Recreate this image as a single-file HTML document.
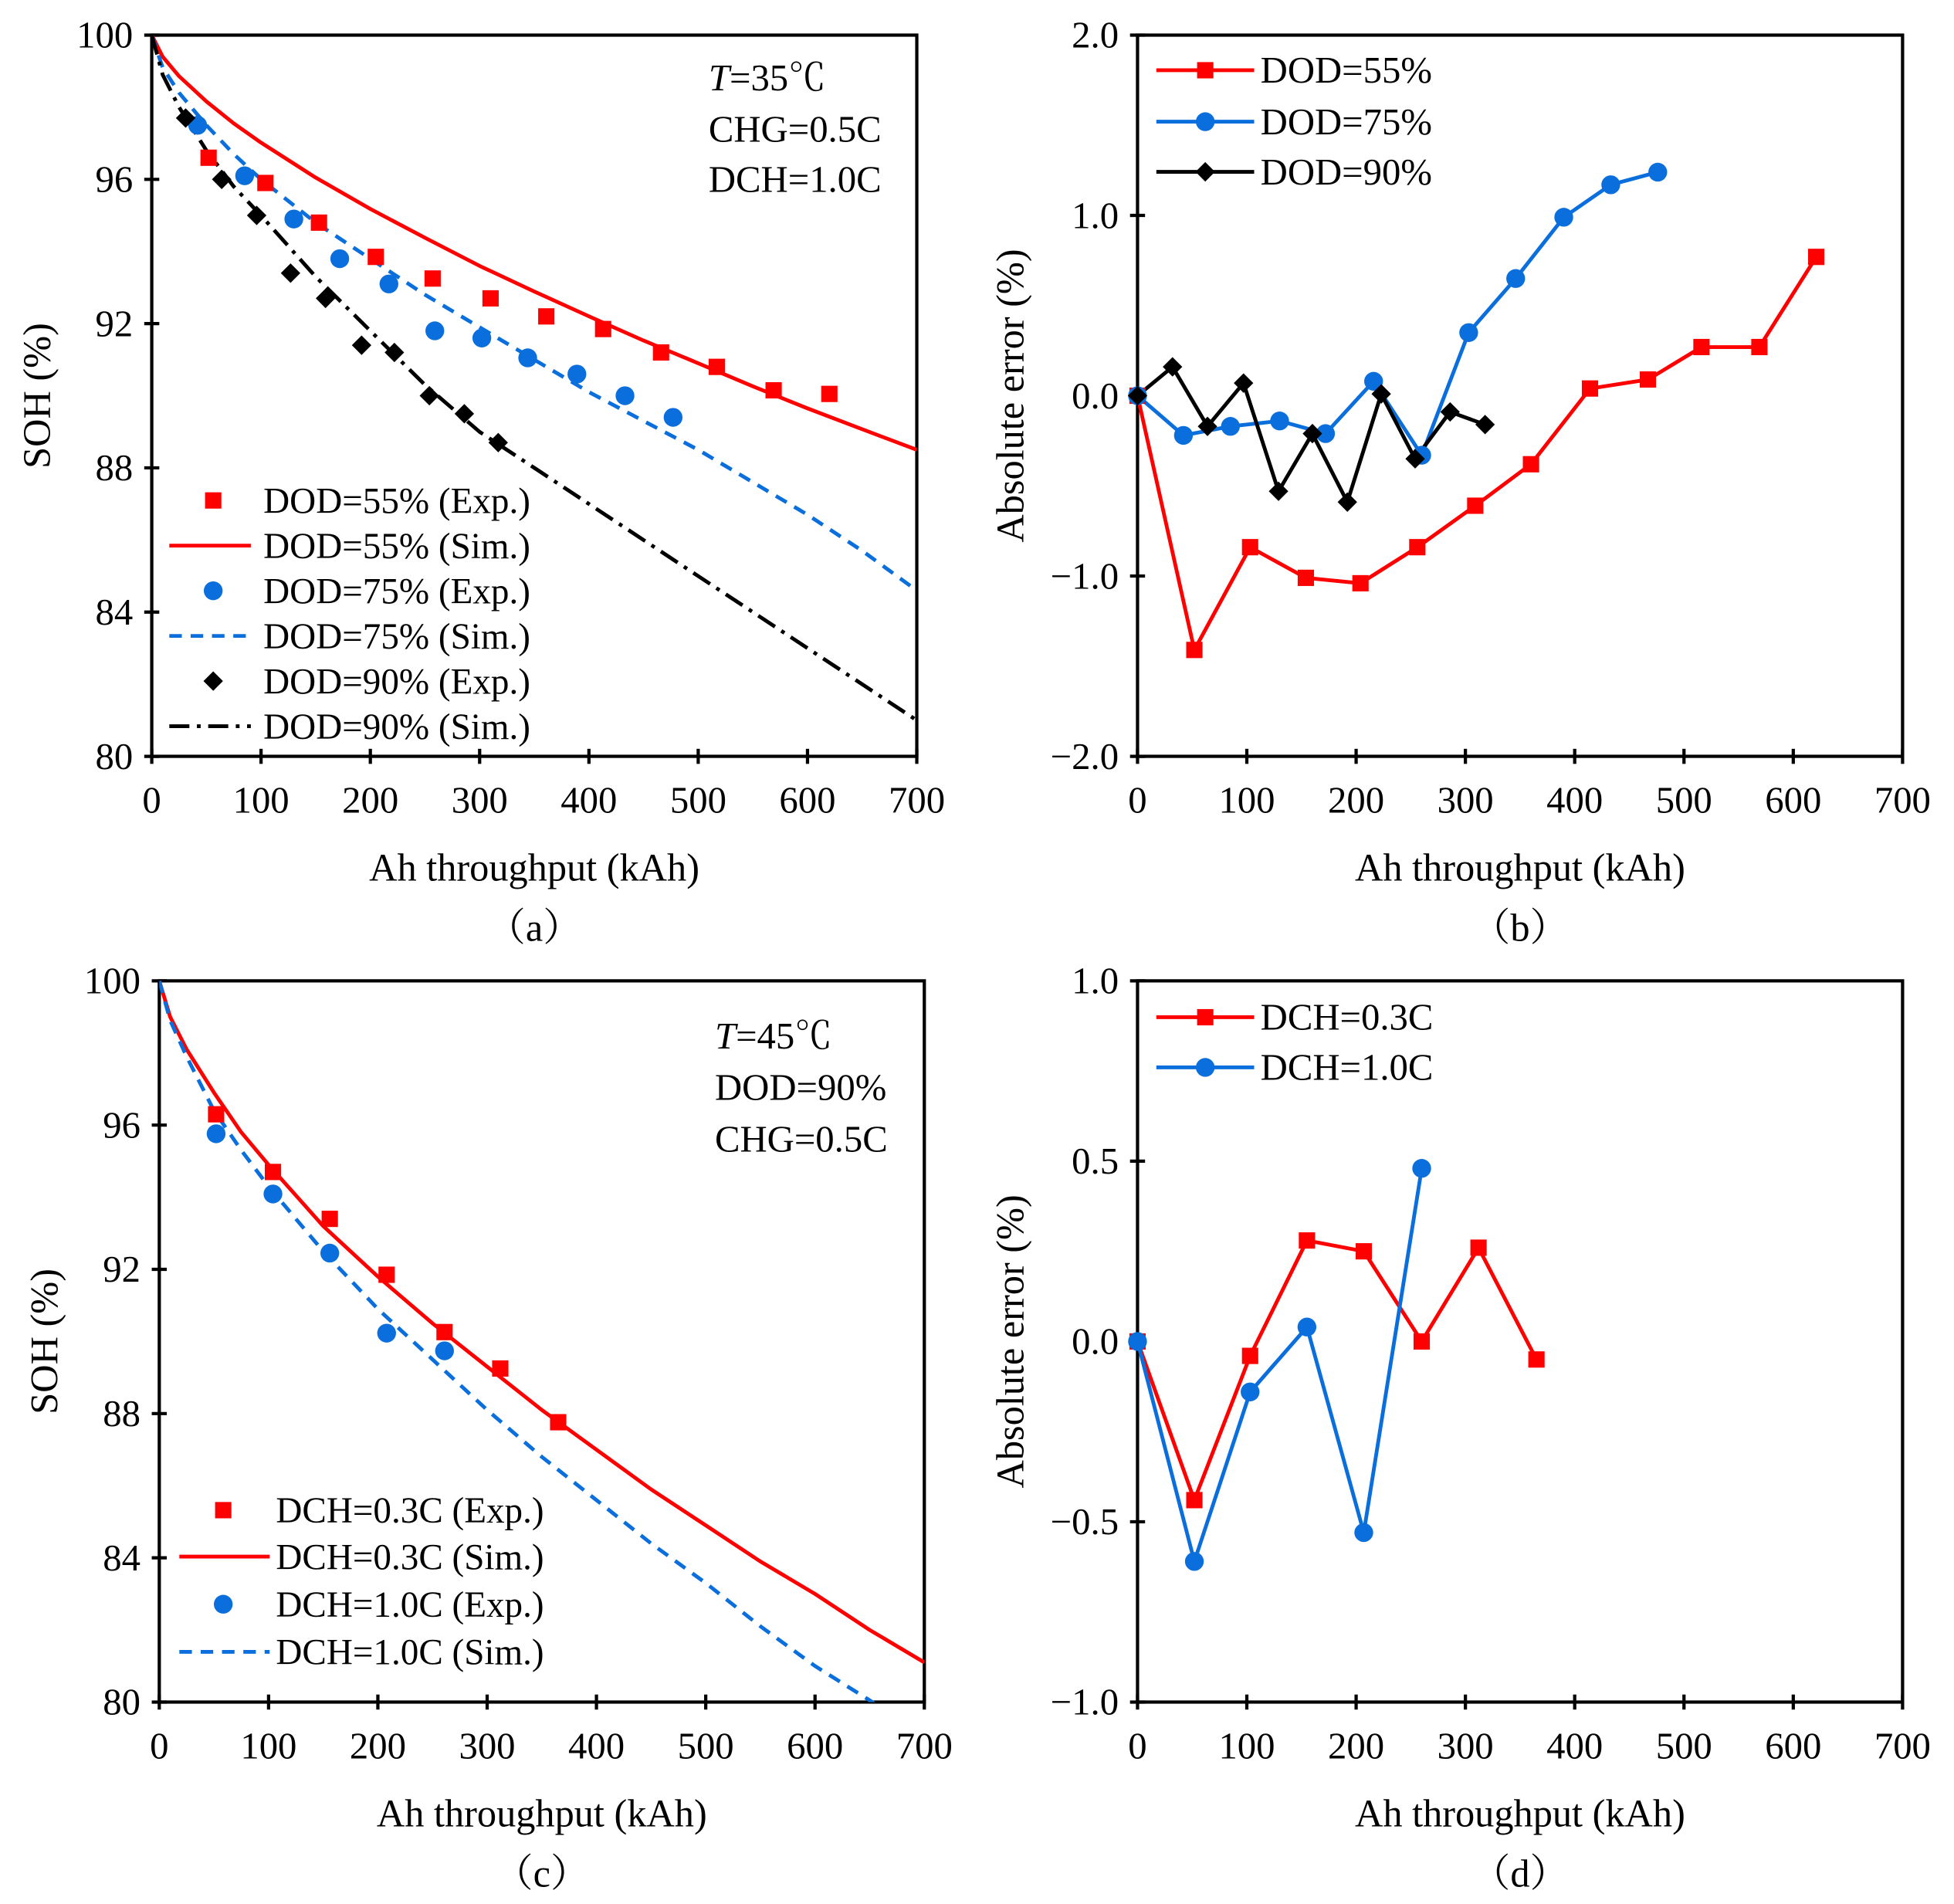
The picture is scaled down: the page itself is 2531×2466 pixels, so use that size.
<!DOCTYPE html>
<html><head><meta charset="utf-8"><style>
html,body{margin:0;padding:0;background:#fff}
svg{display:block}
text{font-family:"Liberation Serif","Noto Serif CJK SC",serif;fill:#000}
</style></head><body>
<svg id="fig" width="2531" height="2466" viewBox="0 0 1558 1518" xmlns="http://www.w3.org/2000/svg"></svg>
<script>
// ---- Panel (a) data ----
const aX55 = [52,104,153,205,257,310,361,413,466,517,569,620];
const aY55 = [96.6,95.9,94.8,93.85,93.25,92.7,92.2,91.85,91.2,90.8,90.15,90.05];
const aX75 = [42,85,130,172,217,259,302,344,389,433,477];
const aY75 = [97.5,96.1,94.9,93.8,93.1,91.8,91.6,91.05,90.6,90.0,89.4];
const aX90 = [31,64,96,127,159,192,222,254,286,317];
const aY90 = [97.7,96.0,95.0,93.4,92.7,91.4,91.2,90.0,89.5,88.7];
const simX = [0,10,25,50,75,100,150,200,250,300,350,400,450,500,550,600,650,700];
const aSim55 = [100,99.4,98.86,98.16,97.55,97.02,96.05,95.18,94.38,93.6,92.89,92.2,91.53,90.9,90.26,89.65,89.07,88.5];
const aSim75 = [100,99.1,98.4,97.5,96.7,96.0,94.8,93.8,92.8,91.9,91.0,90.1,89.3,88.5,87.6,86.7,85.7,84.6];
const aSim90 = [100,98.9,98.0,96.8,95.8,95.0,93.3,91.8,90.3,89.0,88.0,87.0,86.0,85.0,84.0,83.0,82.0,81.0];
// ---- Panel (b) data ----
const bX55 = [0,52,103,154,204,256,309,360,414,467,516,569,621];
const bY55 = [0,-1.41,-0.84,-1.01,-1.04,-0.84,-0.61,-0.38,0.04,0.09,0.27,0.27,0.77];
const bX75 = [0,42,85,130,172,216,260,303,346,390,433,476];
const bY75 = [0,-0.22,-0.17,-0.14,-0.21,0.08,-0.33,0.35,0.65,0.99,1.17,1.24];
const bX90 = [0,32,64,97,129,160,192,223,254,286,318];
const bY90 = [0,0.16,-0.17,0.07,-0.53,-0.21,-0.59,0.01,-0.35,-0.09,-0.16];
// ---- Panel (c) data ----
const cX03 = [52,104,156,208,261,312,365];
const cY03 = [96.3,94.7,93.4,91.85,90.26,89.25,87.76];
const cX10 = [52,104,156,208,261];
const cY10 = [95.76,94.09,92.45,90.23,89.74];
const cSim03 = [100,99.0,98.1,96.9,95.8,94.9,93.2,91.8,90.5,89.3,88.1,87.0,85.9,84.9,83.9,83.0,82.0,81.1];
const cSim10 = [100,98.9,97.9,96.4,95.3,94.3,92.5,90.9,89.5,88.1,86.8,85.6,84.4,83.3,82.1,81.0,80.05,79.0];
// ---- Panel (d) data ----
const dX03 = [0,52,103,155,207,260,312,365];
const dY03 = [0,-0.44,-0.04,0.28,0.25,0,0.26,-0.05];
const dX10 = [0,52,103,155,207,260];
const dY10 = [0,-0.61,-0.14,0.04,-0.53,0.48];
// ticks
const xTicks = [0,100,200,300,400,500,600,700];
const sohTicks = [80,84,88,92,96,100];
const bTicks = [-2,-1,0,1,2];
const bTickLabels = ["\u22122.0","\u22121.0","0.0","1.0","2.0"];
const dTicks = [-1,-0.5,0,0.5,1];
const dTickLabels = ["\u22121.0","\u22120.5","0.0","0.5","1.0"];

const RED="#ff0000", BLUE="#0a6fdc", BLK="#000";
const svg=document.getElementById('fig');
const NS="http://www.w3.org/2000/svg";
function mk(tag,attrs,parent){const e=document.createElementNS(NS,tag);for(const k in attrs)e.setAttribute(k,attrs[k]);(parent||svg).appendChild(e);return e;}
function txt(s,x,y,size,anchor,parent){const t=mk('text',{x:x,y:y,'font-size':size,'text-anchor':anchor||'middle'},parent);t.textContent=s;return t;}

function panel(name,L,R,T,B,ymin,ymax,yt,ytl,ylabel,ylabX,sub){
  const g=mk('g',{});
  
  
  const sx=v=>L+(v-0)/700*(R-L);
  const sy=v=>B-(v-ymin)/(ymax-ymin)*(B-T);
  const cid=name+'-clip';
  const cp=mk('clipPath',{id:cid},g);mk('rect',{x:L,y:T,width:R-L,height:B-T},cp);
  const fr=mk('rect',{x:L,y:T,width:R-L,height:B-T,fill:'none',stroke:'#000','stroke-width':2.6},g);
  
  
  const xa=mk('g',{},g);
  
  
  xTicks.forEach(v=>{mk('line',{x1:sx(v),x2:sx(v),y1:B-6,y2:B+6,stroke:'#000','stroke-width':2.6},xa);txt(String(v),sx(v),B+45,30,'middle',xa);});
  const ya=mk('g',{},g);
  
  
  yt.forEach((v,i)=>{mk('line',{x1:L-6,x2:L+6,y1:sy(v),y2:sy(v),stroke:'#000','stroke-width':2.6},ya);txt(ytl[i],L-15,sy(v)+10,30,'end',ya);});
  const xl=txt('Ah throughput (kAh)',(L+R)/2,B+99,31,'middle',g);
  
  
  const yl=txt(ylabel,0,0,31,'middle',g);
  yl.setAttribute('transform','translate('+ylabX+','+((T+B)/2)+') rotate(-90)');
  
  
  const sl=txt('\uff08'+sub+'\uff09',(L+R)/2,B+147,31,'middle',g);
  
  
  const plot=mk('g',{'clip-path':'url(#'+cid+')'},g);
  return {g,plot,sx,sy};
}
function line(p,xs,ys,color,dash,nm){
  const d=xs.map((x,i)=>(i?'L':'M')+p.sx(x).toFixed(1)+','+p.sy(ys[i]).toFixed(1)).join('');
  const a={d:d,fill:'none',stroke:color,'stroke-width':3,'stroke-linejoin':'round'};
  if(dash)a['stroke-dasharray']=dash;
  const e=mk('path',a,p.plot);
  
  
}
function marker(parent,type,x,y,color){
  let e;
  if(type==='s')e=mk('rect',{x:x-6.5,y:y-6.5,width:13,height:13,fill:color},parent);
  else if(type==='c')e=mk('circle',{cx:x,cy:y,r:7.5,fill:color},parent);
  else e=mk('rect',{x:x-5.5,y:y-5.5,width:11,height:11,fill:color,transform:'rotate(45 '+x+' '+y+')'},parent);
  return e;
}
function points(p,xs,ys,type,color,nm){
  const g=mk('g',{},p.g);
  
  
  xs.forEach((x,i)=>{const m=marker(g,type,p.sx(x),p.sy(ys[i]),color);
    
    });
}
function legRow(parent,y,x1,x2,mx,tx,type,color,dash,label,withLine,withMarker,size){
  if(withLine){const a={x1:x1,x2:x2,y1:y,y2:y,stroke:color,'stroke-width':3};if(dash)a['stroke-dasharray']=dash;mk('line',a,parent);}
  if(withMarker)marker(parent,type,mx,y,color);
  txt(label,tx,y+10,size||29,'start',parent);
}
function legend(nm){const g=mk('g',{});return g;}

// ---------- (a) ----------
const pa=panel('panel-a',121,731,28,603,80,100,sohTicks,sohTicks.map(String),'SOH (%)',40,'a');
line(pa,simX,aSim55,RED,null,'dod55-sim-line');
line(pa,simX,aSim75,BLUE,'10,7','dod75-sim-line');
line(pa,simX,aSim90,BLK,'16,6,3,6','dod90-sim-line');
points(pa,aX55,aY55,'s',RED,'dod55-exp-series');
points(pa,aX75,aY75,'c',BLUE,'dod75-exp-series');
points(pa,aX90,aY90,'d',BLK,'dod90-exp-series');
let la=legend('legend-a');
legRow(la,399,135,200,170,210,'s',RED,null,'DOD=55% (Exp.)',false,true);
legRow(la,435,135,200,170,210,'s',RED,null,'DOD=55% (Sim.)',true,false);
legRow(la,471,135,200,170,210,'c',BLUE,null,'DOD=75% (Exp.)',false,true);
legRow(la,507,135,200,170,210,'c',BLUE,'10,7','DOD=75% (Sim.)',true,false);
legRow(la,543,135,200,170,210,'d',BLK,null,'DOD=90% (Exp.)',false,true);
legRow(la,579,135,200,170,210,'d',BLK,'16,6,3,6','DOD=90% (Sim.)',true,false);
let an=mk('text',{x:565,y:72,'font-size':30});an.innerHTML='<tspan font-style="italic">T</tspan>=35\u2103';

txt('CHG=0.5C',565,113,30,'start');txt('DCH=1.0C',565,153,30,'start');

// ---------- (b) ----------
const pb=panel('panel-b',907,1517,28,603,-2,2,bTicks,bTickLabels,'Absolute error (%)',816,'b');
line(pb,bX55,bY55,RED,null,'dod55-error-line');
line(pb,bX75,bY75,BLUE,null,'dod75-error-line');
line(pb,bX90,bY90,BLK,null,'dod90-error-line');
points(pb,bX55,bY55,'s',RED,'dod55-error-points');
points(pb,bX75,bY75,'c',BLUE,'dod75-error-points');
points(pb,bX90,bY90,'d',BLK,'dod90-error-points');
let lb=legend('legend-b');
legRow(lb,56,922,1000,961,1005,'s',RED,null,'DOD=55%',true,true,30);
legRow(lb,97,922,1000,961,1005,'c',BLUE,null,'DOD=75%',true,true,30);
legRow(lb,137,922,1000,961,1005,'d',BLK,null,'DOD=90%',true,true,30);

// ---------- (c) ----------
const pc=panel('panel-c',127,737,782,1357,80,100,sohTicks,sohTicks.map(String),'SOH (%)',46,'c');
line(pc,simX,cSim03,RED,null,'dch03-sim-line');
line(pc,simX,cSim10,BLUE,'10,7','dch10-sim-line');
points(pc,cX03,cY03,'s',RED,'dch03-exp-series');
points(pc,cX10,cY10,'c',BLUE,'dch10-exp-series');
let lc=legend('legend-c');
legRow(lc,1204,143,215,178,220,'s',RED,null,'DCH=0.3C (Exp.)',false,true);
legRow(lc,1241,143,215,178,220,'s',RED,null,'DCH=0.3C (Sim.)',true,false);
legRow(lc,1279,143,215,178,220,'c',BLUE,null,'DCH=1.0C (Exp.)',false,true);
legRow(lc,1317,143,215,178,220,'c',BLUE,'10,7','DCH=1.0C (Sim.)',true,false);
an=mk('text',{x:570,y:836,'font-size':30});an.innerHTML='<tspan font-style="italic">T</tspan>=45\u2103';

txt('DOD=90%',570,877,30,'start');txt('CHG=0.5C',570,918,30,'start');

// ---------- (d) ----------
const pd=panel('panel-d',907,1517,782,1357,-1,1,dTicks,dTickLabels,'Absolute error (%)',816,'d');
line(pd,dX03,dY03,RED,null,'dch03-error-line');
line(pd,dX10,dY10,BLUE,null,'dch10-error-line');
points(pd,dX03,dY03,'s',RED,'dch03-error-points');
points(pd,dX10,dY10,'c',BLUE,'dch10-error-points');
let ld=legend('legend-d');
legRow(ld,811,922,1000,961,1005,'s',RED,null,'DCH=0.3C',true,true,30);
legRow(ld,851,922,1000,961,1005,'c',BLUE,null,'DCH=1.0C',true,true,30);
</script>
</body></html>
